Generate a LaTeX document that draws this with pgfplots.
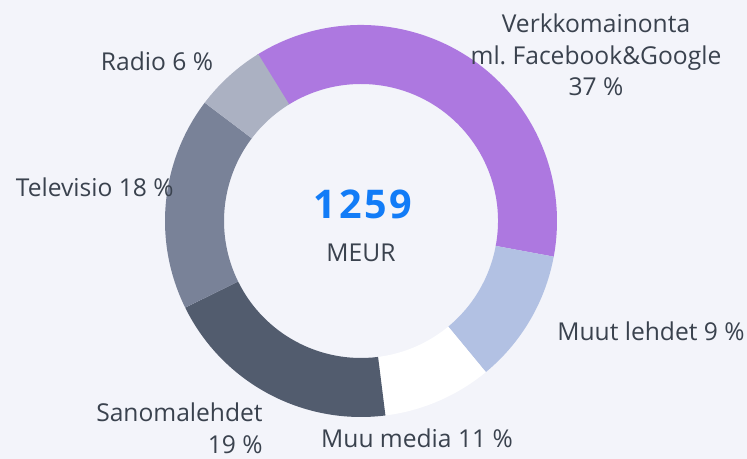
\documentclass[border=0pt]{standalone}
\usepackage{fontspec}
\setmainfont{Open Sans}
\usepackage{pgfplots}
\usepackage{pgfplotstable}
\pgfplotsset{compat=1.18}

\definecolor{bgc}{RGB}{243,244,250}
\definecolor{txt}{RGB}{58,66,78}
\definecolor{numc}{RGB}{18,124,247}
\definecolor{cverk}{RGB}{173,120,224}
\definecolor{cmuutl}{RGB}{178,193,227}
\definecolor{cmuum}{RGB}{255,255,255}
\definecolor{csan}{RGB}{82,92,110}
\definecolor{ctv}{RGB}{121,130,152}
\definecolor{cradio}{RGB}{171,177,194}

% share in percent, drawn clockwise from 122 deg
\pgfplotstableread{
value col
36.8 cverk
11.1 cmuutl
9.0  cmuum
19.7 csan
17.6 ctv
5.9  cradio
}\donutdata

\newcommand\rout{3.92}
\newcommand\rin{2.74}
\tikzset{lbl/.style={font=\fontsize{14}{18}\selectfont, text=txt, inner sep=0pt}}

\begin{document}
\begin{tikzpicture}
% build the ring segments from the table
\pgfplotstablegetrowsof{\donutdata}
\pgfmathtruncatemacro\lastrow{\pgfplotsretval-1}
\def\segments{}
\def\cum{0}
\pgfplotsforeachungrouped \i in {0,...,\lastrow}{%
  \pgfplotstablegetelem{\i}{value}\of\donutdata \let\val\pgfplotsretval
  \pgfplotstablegetelem{\i}{col}\of\donutdata \let\col\pgfplotsretval
  \pgfmathsetmacro\sa{122-3.6*\cum}%
  \pgfmathsetmacro\ea{122-3.6*(\cum+\val)}%
  \pgfmathsetmacro\cum{\cum+\val}%
  \pgfmathsetmacro\xo{\rout*cos(\sa)}%
  \pgfmathsetmacro\yo{\rout*sin(\sa)}%
  \pgfmathsetmacro\xi{\rin*cos(\ea)}%
  \pgfmathsetmacro\yi{\rin*sin(\ea)}%
  \xdef\segments{\unexpanded\expandafter{\segments}%
    \noexpand\fill[\col] (axis cs:\xo,\yo) arc[start angle=\sa,end angle=\ea,radius=\rout]
      -- (axis cs:\xi,\yi) arc[start angle=\ea,end angle=\sa,radius=\rin] -- cycle;}%
}
\begin{axis}[x=1cm, y=1cm, hide axis, clip=false,
  xmin=-7.22, xmax=7.72, ymin=-4.76, ymax=4.42]
\fill[bgc] (rel axis cs:0,0) rectangle (rel axis cs:1,1);
\coordinate (bl) at (rel axis cs:0,0);
\coordinate (tr) at (rel axis cs:1,1);
\segments
\node[inner sep=0pt, font=\fontsize{22.5}{26}\selectfont\bfseries\addfontfeatures{LetterSpace=7}, text=numc] at (axis cs:0.04,0.34) {1259};
\node[lbl] at (axis cs:0,-0.64) {MEUR};
\node[lbl, align=center] at (axis cs:4.70,3.32) {Verkkomainonta\\ml.\ Facebook\&Google\\37 \%};
\node[lbl] at (axis cs:-4.08,3.2) {Radio 6 \%};
\node[lbl, anchor=east] at (axis cs:-3.74,0.68) {Televisio 18 \%};
\node[lbl, anchor=west] at (axis cs:3.92,-2.2) {Muut lehdet 9 \%};
\node[lbl, anchor=east, align=right] at (axis cs:-1.96,-4.14) {Sanomalehdet\\19 \%};
\node[lbl] at (axis cs:1.12,-4.34) {Muu media 11 \%};
\end{axis}
\pgfresetboundingbox
\useasboundingbox (bl) rectangle (tr);
\end{tikzpicture}
\end{document}
